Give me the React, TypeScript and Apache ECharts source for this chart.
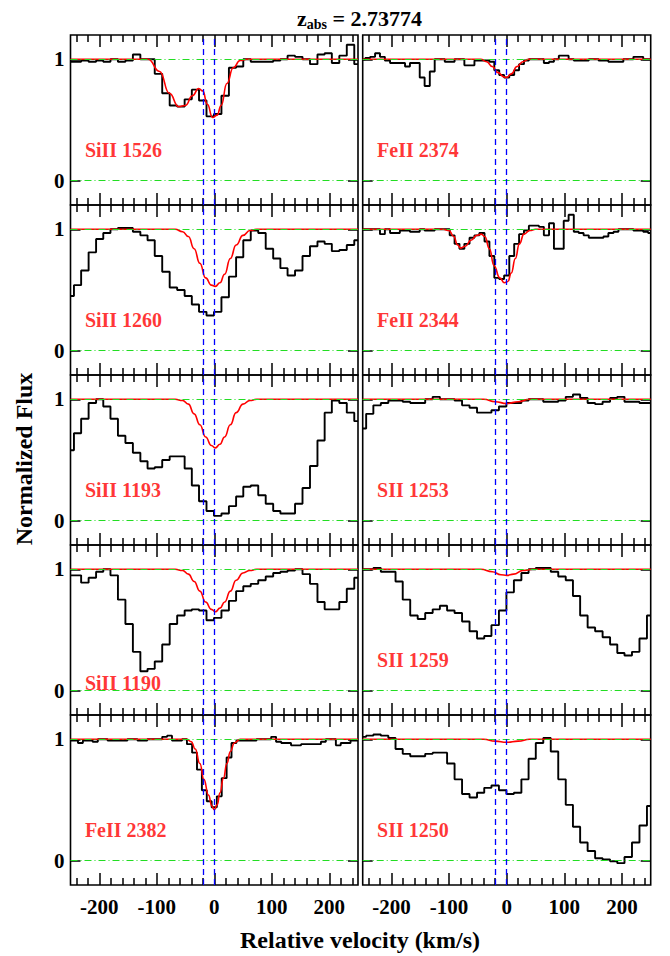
import React, { useEffect, useRef } from "react";
import * as echarts from "echarts";

const FONT = "'Liberation Serif', 'Times New Roman', serif";

// velocity bin centres (km/s)
const VEL_SI = [-250,-238,-225,-212,-199,-187,-174,-161,-148,-135,-122,-110,-97,-84,-71,-58,-45,-33,-20,-7,6,19,32,44,57,70,83,96,109,121,134,147,160,173,186,198,211,224,237,250];
const VEL_FE = [-250,-241,-233,-224,-216,-207,-198,-190,-181,-172,-164,-155,-147,-138,-129,-121,-112,-103,-95,-86,-78,-69,-60,-52,-43,-34,-26,-17,-9,0,9,17,26,34,43,52,60,69,78,86,95,103,112,121,129,138,147,155,164,172,181,190,198,207,216,224,233,241,250];

// normalized flux
const SI1526 = [0.98,0.98,0.99,0.98,0.99,0.98,1.0,0.98,0.99,1.04,1.0,1.0,0.88,0.72,0.62,0.61,0.67,0.75,0.66,0.53,0.55,0.7,0.93,0.94,1.0,0.98,0.98,0.98,0.99,1.0,1.03,1.02,1.0,0.96,1.04,1.05,0.97,1.03,1.12,0.96];
const FE2374 = [1.0,1.01,1.02,1.05,1.02,0.99,0.97,0.97,0.97,0.94,0.97,0.97,0.85,0.78,0.9,1.0,1.0,0.98,0.98,1.0,1.0,0.95,0.95,0.99,0.99,0.99,0.98,0.91,0.87,0.85,0.87,0.91,0.96,0.99,1.0,1.0,1.0,0.97,0.98,1.0,1.03,1.03,1.0,0.99,0.99,0.99,1.0,1.0,0.99,0.99,0.98,0.98,0.98,1.0,1.0,1.02,1.02,1.0,1.0];
const SI1260 = [0.45,0.54,0.66,0.81,0.92,0.97,1.0,1.01,1.01,0.98,0.95,0.91,0.78,0.65,0.52,0.5,0.45,0.38,0.32,0.29,0.32,0.44,0.61,0.77,0.91,0.99,0.97,0.84,0.76,0.68,0.62,0.66,0.78,0.86,0.9,0.88,0.82,0.83,0.87,0.91];
const FE2344 = [1.0,1.0,1.0,1.0,0.96,1.0,0.97,0.97,0.99,0.99,0.98,0.98,1.0,0.99,0.99,1.0,1.0,1.0,0.95,0.88,0.84,0.88,0.93,0.95,0.97,0.9,0.78,0.6,0.59,0.62,0.78,0.88,0.96,0.99,1.03,1.03,1.02,0.95,1.05,0.84,0.84,1.07,1.12,0.98,0.97,0.95,0.93,0.93,0.93,0.94,0.97,0.98,1.0,1.0,1.0,0.99,0.99,0.98,0.97];
const SI1193 = [0.58,0.72,0.84,0.97,1.0,0.94,0.84,0.7,0.64,0.56,0.49,0.43,0.44,0.5,0.53,0.53,0.43,0.29,0.16,0.08,0.04,0.06,0.12,0.2,0.28,0.29,0.21,0.14,0.08,0.06,0.06,0.14,0.27,0.45,0.66,0.89,0.99,0.97,0.89,0.82];
const S1253 = [0.76,0.88,0.95,0.97,0.99,0.99,0.98,0.97,0.97,1.0,1.02,1.0,1.0,0.99,0.95,0.93,0.89,0.89,0.91,0.94,0.97,0.97,0.99,1.0,1.0,0.98,0.98,0.99,1.02,1.04,1.01,0.97,0.96,0.98,1.01,1.02,0.98,0.98,0.97,0.97];
const SI1190 = [0.95,0.95,0.89,0.93,0.98,1.0,0.95,0.75,0.55,0.32,0.16,0.18,0.24,0.38,0.55,0.62,0.66,0.67,0.66,0.58,0.6,0.66,0.74,0.82,0.86,0.88,0.91,0.94,0.97,0.98,0.99,1.0,0.96,0.88,0.73,0.67,0.67,0.73,0.84,0.93];
const S1259 = [1.0,1.0,1.01,0.98,0.98,0.9,0.75,0.62,0.59,0.64,0.67,0.7,0.66,0.64,0.57,0.49,0.43,0.45,0.54,0.66,0.81,0.91,0.97,1.0,1.01,1.01,0.98,0.94,0.91,0.78,0.62,0.52,0.49,0.44,0.38,0.31,0.29,0.32,0.43,0.62];
const FE2382 = [0.99,0.99,0.97,0.99,0.99,0.98,1.0,1.0,0.99,0.99,0.99,0.99,1.0,1.0,0.99,0.99,1.0,1.0,1.0,1.02,1.03,0.99,0.99,1.0,0.96,0.89,0.75,0.58,0.49,0.44,0.53,0.68,0.85,0.97,0.99,0.99,0.99,0.99,1.0,1.0,1.0,1.02,0.98,0.97,0.97,0.95,0.95,0.96,0.96,0.96,0.96,0.98,1.0,1.0,0.95,0.97,0.97,0.99,0.99];
const S1250 = [1.02,1.03,1.04,1.03,1.01,0.92,0.88,0.86,0.86,0.88,0.89,0.89,0.8,0.67,0.55,0.52,0.56,0.6,0.62,0.58,0.55,0.56,0.67,0.84,0.97,1.01,0.9,0.67,0.46,0.28,0.15,0.08,0.02,0.01,-0.005,-0.02,0.03,0.15,0.29,0.45];

// Voigt-profile fits [velocity, flux]
const M_SI1526 = [[-250,1],[-115,1],[-95,0.9],[-78,0.72],[-62,0.61],[-50,0.62],[-38,0.7],[-27,0.76],[-20,0.74],[-12,0.63],[-3,0.52],[5,0.54],[12,0.62],[22,0.8],[33,0.93],[45,0.99],[56,1],[250,1]];
const M_FE2374 = [[-250,1],[-45,1],[-35,0.98],[-25,0.94],[-15,0.89],[-5,0.855],[0,0.85],[8,0.88],[18,0.94],[28,0.98],[38,1],[250,1]];
const M_SI1260 = [[-250,1],[-68,1],[-55,0.98],[-45,0.94],[-35,0.84],[-25,0.72],[-15,0.6],[-5,0.54],[2,0.53],[10,0.56],[18,0.63],[28,0.76],[38,0.87],[50,0.95],[62,0.99],[74,1],[250,1]];
const M_FE2344 = [[-250,1],[-110,1],[-100,0.99],[-92,0.94],[-85,0.87],[-80,0.845],[-72,0.86],[-62,0.91],[-52,0.95],[-44,0.96],[-38,0.94],[-30,0.84],[-22,0.7],[-12,0.6],[-4,0.56],[2,0.57],[8,0.64],[15,0.76],[22,0.88],[30,0.96],[40,0.99],[50,1],[250,1]];
const M_SI1193 = [[-250,1],[-68,1],[-55,0.99],[-45,0.96],[-35,0.88],[-25,0.79],[-15,0.69],[-5,0.62],[2,0.6],[10,0.63],[18,0.69],[28,0.79],[38,0.89],[50,0.96],[62,0.99],[74,1],[250,1]];
const M_S1253 = [[-250,1],[-40,1],[-20,0.98],[0,0.965],[20,0.98],[40,1],[250,1]];
const M_SI1190 = [[-250,1],[-68,1],[-55,0.99],[-45,0.96],[-35,0.9],[-25,0.82],[-15,0.73],[-5,0.67],[2,0.65],[10,0.68],[18,0.73],[28,0.82],[38,0.91],[50,0.97],[62,0.99],[74,1],[250,1]];
const M_S1259 = [[-250,1],[-45,1],[-25,0.98],[-10,0.955],[0,0.95],[12,0.96],[28,0.99],[45,1],[250,1]];
const M_FE2382 = [[-250,1],[-48,1],[-40,0.98],[-33,0.92],[-25,0.8],[-18,0.67],[-10,0.54],[-4,0.45],[0,0.42],[5,0.46],[10,0.56],[16,0.68],[22,0.8],[28,0.9],[35,0.97],[45,1],[250,1]];
const M_S1250 = [[-250,1],[-40,1],[-20,0.985],[0,0.975],[20,0.985],[40,1],[250,1]];

const MAJOR_TICKS = [-200, -100, 0, 100, 200];
const MINOR_TICKS = [-240,-220,-180,-160,-140,-120,-80,-60,-40,-20,20,40,60,80,120,140,160,180,220,240];
const Y_TICKS = [0, 1];
const COMPONENTS = [-20, 0];
const LEVELS = [0, 1];

const PANELS = [
  { name: "SiII 1526", col: 0, row: 0, vel: VEL_SI, flux: SI1526, model: M_SI1526, labelY: 0.25 },
  { name: "FeII 2374", col: 1, row: 0, vel: VEL_FE, flux: FE2374, model: M_FE2374, labelY: 0.25 },
  { name: "SiII 1260", col: 0, row: 1, vel: VEL_SI, flux: SI1260, model: M_SI1260, labelY: 0.25 },
  { name: "FeII 2344", col: 1, row: 1, vel: VEL_FE, flux: FE2344, model: M_FE2344, labelY: 0.25 },
  { name: "SiII 1193", col: 0, row: 2, vel: VEL_SI, flux: SI1193, model: M_SI1193, labelY: 0.25 },
  { name: "SII 1253", col: 1, row: 2, vel: VEL_SI, flux: S1253, model: M_S1253, labelY: 0.25 },
  { name: "SiII 1190", col: 0, row: 3, vel: VEL_SI, flux: SI1190, model: M_SI1190, labelY: 0.06 },
  { name: "SII 1259", col: 1, row: 3, vel: VEL_SI, flux: S1259, model: M_S1259, labelY: 0.25 },
  { name: "FeII 2382", col: 0, row: 4, vel: VEL_FE, flux: FE2382, model: M_FE2382, labelY: 0.25 },
  { name: "SII 1250", col: 1, row: 4, vel: VEL_SI, flux: S1250, model: M_S1250, labelY: 0.25 },
];

const GRID_LEFT = [70.5, 362.7];
const GRID_W = [287.5, 288];
const GRID_TOP = 35;
const ROW_H = 170;
const N_ROWS = 5;

function buildOption() {
  const grid: any[] = [];
  const xAxis: any[] = [];
  const yAxis: any[] = [];
  const series: any[] = [];
  const tickStyle = { color: "#000", width: 1.5 };

  PANELS.forEach((p, i) => {
    grid.push({
      left: GRID_LEFT[p.col], top: GRID_TOP + p.row * ROW_H,
      width: GRID_W[p.col], height: ROW_H,
      show: true, borderColor: "#000", borderWidth: 1.6, backgroundColor: "rgba(0,0,0,0)",
    });
    const bottomRow = p.row === N_ROWS - 1;
    const mkX = (pos: string, vals: number[], len: number, labels: boolean) => ({
      type: "value", gridIndex: i, min: -250, max: 250, position: pos,
      axisLine: { show: false, onZero: false }, splitLine: { show: false },
      axisTick: { show: true, inside: true, length: len, customValues: vals, lineStyle: tickStyle },
      axisLabel: labels
        ? { show: true, customValues: MAJOR_TICKS, fontFamily: FONT, fontWeight: "bold", fontSize: 21, color: "#000", margin: 11 }
        : { show: false },
    });
    xAxis.push(mkX("bottom", MAJOR_TICKS, 12, bottomRow));
    xAxis.push(mkX("bottom", MINOR_TICKS, 7, false));
    xAxis.push(mkX("top", MAJOR_TICKS, 12, false));
    xAxis.push(mkX("top", MINOR_TICKS, 7, false));
    const mkY = (pos: string, labels: boolean) => ({
      type: "value", gridIndex: i, min: -0.2, max: 1.2, position: pos,
      axisLine: { show: false, onZero: false }, splitLine: { show: false },
      axisTick: { show: true, inside: true, length: 10, customValues: Y_TICKS, lineStyle: tickStyle },
      axisLabel: labels
        ? { show: true, customValues: Y_TICKS, fontFamily: FONT, fontWeight: "bold", fontSize: 21, color: "#000", margin: 6 }
        : { show: false },
    });
    yAxis.push(mkY("left", p.col === 0));
    yAxis.push(mkY("right", false));

    const xi = i * 4;
    const yi = i * 2;
    series.push({
      type: "line", xAxisIndex: xi, yAxisIndex: yi, step: "middle",
      data: p.vel.map((v, k) => [v, p.flux[k]]),
      symbol: "none", lineStyle: { color: "#000", width: 1.9 }, z: 2, silent: true,
    });
    series.push({
      type: "line", xAxisIndex: xi, yAxisIndex: yi, smooth: 0.5, smoothMonotone: "x",
      data: p.model, symbol: "none", lineStyle: { color: "#ff0000", width: 1.6 }, z: 3, silent: true,
    });
    series.push({
      type: "line", xAxisIndex: xi, yAxisIndex: yi, data: [], z: 4, silent: true,
      markLine: {
        symbol: "none", silent: true, label: { show: false }, animation: false,
        lineStyle: { color: "#22dd22", width: 1, type: [7, 3, 1, 3] },
        data: LEVELS.map((y) => ({ yAxis: y })),
      },
    });
    series.push({
      type: "line", xAxisIndex: xi, yAxisIndex: yi, data: [], z: 5, silent: true,
      markLine: {
        symbol: "none", silent: true, label: { show: false }, animation: false,
        lineStyle: { color: "#0000ff", width: 1.3, type: [6, 4] },
        data: COMPONENTS.map((x) => ({ xAxis: x })),
      },
    });
    series.push({
      type: "scatter", xAxisIndex: xi, yAxisIndex: yi, symbolSize: 0, z: 6, silent: true,
      data: [[-225, p.labelY]],
      label: {
        show: true, position: "right", distance: 0, formatter: p.name,
        fontFamily: FONT, fontWeight: "bold", fontSize: 20, color: "#ff0000",
      },
    });
  });

  return {
    animation: false,
    backgroundColor: "#fff",
    title: {
      text: "{a|z}{b|abs}{a| = 2.73774}",
      left: 292, top: 0,
      textStyle: {
        rich: {
          a: { fontFamily: FONT, fontWeight: "bold", fontSize: 22, color: "#000" },
          b: { fontFamily: FONT, fontWeight: "bold", fontSize: 14, color: "#000", padding: [12, 0, 0, 0] },
        },
      },
    },
    grid, xAxis, yAxis, series,
    graphic: [
      {
        type: "text", x: 360, y: 940,
        style: { text: "Relative velocity (km/s)", align: "center", verticalAlign: "middle", textAlign: "center", textVerticalAlign: "middle",
          fontFamily: FONT, fontWeight: "bold", fontSize: 24, fill: "#000" },
      },
      {
        type: "text", x: 24, y: 459, rotation: Math.PI / 2,
        style: { text: "Normalized Flux", align: "center", verticalAlign: "middle", textAlign: "center", textVerticalAlign: "middle",
          fontFamily: FONT, fontWeight: "bold", fontSize: 24, fill: "#000" },
      },
    ],
  };
}

export default function App() {
  const ref = useRef<HTMLDivElement>(null);
  useEffect(() => {
    if (!ref.current) return;
    const chart = echarts.init(ref.current, null, { renderer: "svg" });
    chart.setOption(buildOption() as any);
    return () => chart.dispose();
  }, []);
  return <div ref={ref} style={{ position: "absolute", left: 0, top: 0, width: 670, height: 956 }} />;
}
